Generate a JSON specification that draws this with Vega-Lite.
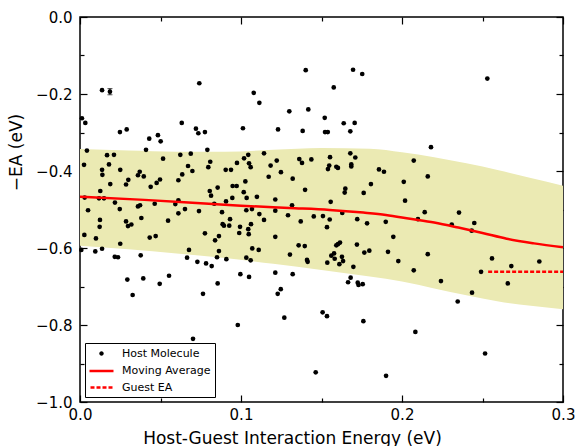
{
  "$schema": "https://vega.github.io/schema/vega-lite/v6.json",
  "width": 483,
  "height": 385,
  "autosize": {"type": "none"},
  "padding": {"left": 80, "top": 17, "right": 14, "bottom": 44},
  "background": "white",
  "config": {
    "view": {"stroke": "black", "strokeWidth": 1.5},
    "font": "DejaVu Sans",
    "axis": {
      "labelFont": "DejaVu Sans", "titleFont": "DejaVu Sans",
      "labelColor": "black", "titleColor": "black", "tickColor": "black",
      "domain": false, "grid": false, "titleFontWeight": "normal",
      "labelFontSize": 15, "titleFontSize": 17, "tickWidth": 1.2, "zindex": 1
    }
  },
  "datasets": {
    "band": [
      {"x": 0.0, "hi": -0.343, "lo": -0.594},
      {"x": 0.03, "hi": -0.347, "lo": -0.603},
      {"x": 0.06, "hi": -0.350, "lo": -0.614},
      {"x": 0.09, "hi": -0.350, "lo": -0.626},
      {"x": 0.12, "hi": -0.345, "lo": -0.641},
      {"x": 0.15, "hi": -0.340, "lo": -0.657},
      {"x": 0.18, "hi": -0.342, "lo": -0.674},
      {"x": 0.2, "hi": -0.351, "lo": -0.687},
      {"x": 0.22, "hi": -0.364, "lo": -0.705},
      {"x": 0.24, "hi": -0.380, "lo": -0.723},
      {"x": 0.26, "hi": -0.398, "lo": -0.739},
      {"x": 0.28, "hi": -0.418, "lo": -0.750},
      {"x": 0.3, "hi": -0.438, "lo": -0.759}
    ],
    "ma": [
      {"x": 0.0, "y": -0.467}, {"x": 0.04, "y": -0.475}, {"x": 0.08, "y": -0.485},
      {"x": 0.1, "y": -0.490}, {"x": 0.13, "y": -0.496}, {"x": 0.155, "y": -0.501},
      {"x": 0.176, "y": -0.508}, {"x": 0.19, "y": -0.514}, {"x": 0.205, "y": -0.524},
      {"x": 0.22, "y": -0.534}, {"x": 0.235, "y": -0.547}, {"x": 0.25, "y": -0.561},
      {"x": 0.265, "y": -0.576}, {"x": 0.282, "y": -0.588}, {"x": 0.3, "y": -0.598}
    ],
    "guest": [
      {"x": 0.2535, "y": -0.6615}, {"x": 0.3, "y": -0.6615}
    ],
    "err": [
      {"x": 0.0186, "lo": -0.202, "hi": -0.186}
    ],
    "pts": [
      {"x":0.0137,"y":-0.190},{"x":0.0186,"y":-0.194},{"x":0.0741,"y":-0.172},{"x":0.0012,"y":-0.263},{"x":0.0033,"y":-0.275},{"x":0.0248,"y":-0.299},{"x":0.0290,"y":-0.292},{"x":0.0632,"y":-0.275},{"x":0.0720,"y":-0.290},{"x":0.1402,"y":-0.138},{"x":0.1696,"y":-0.137},{"x":0.1753,"y":-0.148},{"x":0.1079,"y":-0.197},{"x":0.1114,"y":-0.223},{"x":0.1576,"y":-0.183},{"x":0.1300,"y":-0.245},{"x":0.1418,"y":-0.240},{"x":0.1520,"y":-0.262},{"x":0.1638,"y":-0.276},{"x":0.1706,"y":-0.275},{"x":0.1012,"y":-0.289},{"x":0.1230,"y":-0.292},{"x":0.1383,"y":-0.296},{"x":0.1522,"y":-0.299},{"x":0.1539,"y":-0.299},{"x":0.1679,"y":-0.297},{"x":0.2530,"y":-0.160},
      {"x":0.0430,"y":-0.316},{"x":0.0484,"y":-0.307},{"x":0.0501,"y":-0.323},{"x":0.0043,"y":-0.347},{"x":0.0410,"y":-0.345},{"x":0.0025,"y":-0.384},{"x":0.0168,"y":-0.359},{"x":0.0211,"y":-0.358},{"x":0.0180,"y":-0.383},{"x":0.0137,"y":-0.397},{"x":0.0139,"y":-0.410},{"x":0.0250,"y":-0.397},{"x":0.0516,"y":-0.368},{"x":0.0371,"y":-0.402},{"x":0.0360,"y":-0.411},{"x":0.0396,"y":-0.414},{"x":0.0300,"y":-0.423},{"x":0.0286,"y":-0.435},{"x":0.0188,"y":-0.434},{"x":0.0439,"y":-0.441},{"x":0.0497,"y":-0.422},{"x":0.0476,"y":-0.431},{"x":0.0126,"y":-0.452},{"x":0.0118,"y":-0.471},{"x":0.0149,"y":-0.471},{"x":0.0029,"y":-0.469},{"x":0.0217,"y":-0.482},{"x":0.0247,"y":-0.499},{"x":0.0050,"y":-0.502},{"x":0.0360,"y":-0.492},{"x":0.0373,"y":-0.489},{"x":0.0464,"y":-0.485},{"x":0.0592,"y":-0.486},{"x":0.0124,"y":-0.527},{"x":0.0122,"y":-0.545},{"x":0.0286,"y":-0.531},{"x":0.0298,"y":-0.543},{"x":0.0319,"y":-0.539},{"x":0.0381,"y":-0.522},{"x":0.0547,"y":-0.529},{"x":0.0027,"y":-0.566},{"x":0.0099,"y":-0.575},{"x":0.0250,"y":-0.589},{"x":0.0433,"y":-0.573},{"x":0.0470,"y":-0.569},{"x":0.0008,"y":-0.605},{"x":0.0095,"y":-0.609},{"x":0.0137,"y":-0.602},{"x":0.0216,"y":-0.623},{"x":0.0236,"y":-0.624},{"x":0.0377,"y":-0.619},{"x":0.0294,"y":-0.682},{"x":0.0393,"y":-0.679},{"x":0.0495,"y":-0.693},{"x":0.0553,"y":-0.672},{"x":0.0327,"y":-0.722},
      {"x":0.0735,"y":-0.302},{"x":0.0776,"y":-0.299},{"x":0.0791,"y":-0.345},{"x":0.0623,"y":-0.358},{"x":0.0688,"y":-0.355},{"x":0.1045,"y":-0.358},{"x":0.1143,"y":-0.354},{"x":0.1019,"y":-0.367},{"x":0.0975,"y":-0.379},{"x":0.0809,"y":-0.376},{"x":0.0797,"y":-0.390},{"x":0.0671,"y":-0.387},{"x":0.0698,"y":-0.400},{"x":0.1050,"y":-0.380},{"x":0.1060,"y":-0.390},{"x":0.1184,"y":-0.386},{"x":0.0905,"y":-0.397},{"x":0.0938,"y":-0.397},{"x":0.0635,"y":-0.409},{"x":0.0611,"y":-0.424},{"x":0.1172,"y":-0.415},{"x":0.1027,"y":-0.427},{"x":0.0948,"y":-0.439},{"x":0.0973,"y":-0.439},{"x":0.0806,"y":-0.452},{"x":0.0814,"y":-0.464},{"x":0.0855,"y":-0.443},{"x":0.1017,"y":-0.455},{"x":0.1035,"y":-0.470},{"x":0.1099,"y":-0.467},{"x":0.0946,"y":-0.470},{"x":0.0907,"y":-0.479},{"x":0.0834,"y":-0.485},{"x":0.0611,"y":-0.476},{"x":0.0652,"y":-0.499},{"x":0.0611,"y":-0.510},{"x":0.0739,"y":-0.504},{"x":0.0882,"y":-0.507},{"x":0.1033,"y":-0.502},{"x":0.1068,"y":-0.499},{"x":0.1114,"y":-0.512},{"x":0.1143,"y":-0.527},{"x":0.0932,"y":-0.525},{"x":0.0886,"y":-0.538},{"x":0.0894,"y":-0.542},{"x":0.0927,"y":-0.542},{"x":0.0994,"y":-0.545},{"x":0.1045,"y":-0.551},{"x":0.1062,"y":-0.538},{"x":0.0989,"y":-0.561},{"x":0.1048,"y":-0.564},{"x":0.0776,"y":-0.562},{"x":0.0863,"y":-0.569},{"x":0.0839,"y":-0.580},{"x":0.0677,"y":-0.605},{"x":0.0665,"y":-0.625},{"x":0.0863,"y":-0.608},{"x":0.0851,"y":-0.624},{"x":0.0909,"y":-0.629},{"x":0.1070,"y":-0.601},{"x":0.1110,"y":-0.605},{"x":0.1033,"y":-0.625},{"x":0.1060,"y":-0.632},{"x":0.0729,"y":-0.636},{"x":0.0783,"y":-0.640},{"x":0.0818,"y":-0.647},{"x":0.0996,"y":-0.668},{"x":0.1050,"y":-0.675},{"x":0.0855,"y":-0.692},{"x":0.0764,"y":-0.719},
      {"x":0.1222,"y":-0.373},{"x":0.1248,"y":-0.403},{"x":0.1321,"y":-0.420},{"x":0.1362,"y":-0.369},{"x":0.1379,"y":-0.379},{"x":0.1437,"y":-0.370},{"x":0.1553,"y":-0.364},{"x":0.1540,"y":-0.395},{"x":0.1548,"y":-0.386},{"x":0.1592,"y":-0.389},{"x":0.1602,"y":-0.392},{"x":0.1679,"y":-0.354},{"x":0.1710,"y":-0.365},{"x":0.1685,"y":-0.383},{"x":0.1685,"y":-0.388},{"x":0.1398,"y":-0.449},{"x":0.1648,"y":-0.446},{"x":0.1644,"y":-0.456},{"x":0.1762,"y":-0.457},{"x":0.1213,"y":-0.474},{"x":0.1557,"y":-0.480},{"x":0.1317,"y":-0.489},{"x":0.1213,"y":-0.503},{"x":0.1292,"y":-0.515},{"x":0.1371,"y":-0.531},{"x":0.1452,"y":-0.518},{"x":0.1509,"y":-0.517},{"x":0.1551,"y":-0.526},{"x":0.1534,"y":-0.546},{"x":0.1629,"y":-0.509},{"x":0.1722,"y":-0.525},{"x":0.1783,"y":-0.536},{"x":0.1213,"y":-0.571},{"x":0.1358,"y":-0.593},{"x":0.1396,"y":-0.595},{"x":0.1592,"y":-0.593},{"x":0.1602,"y":-0.590},{"x":0.1615,"y":-0.586},{"x":0.1720,"y":-0.591},{"x":0.1766,"y":-0.612},{"x":0.1797,"y":-0.607},{"x":0.1304,"y":-0.617},{"x":0.1578,"y":-0.614},{"x":0.1561,"y":-0.620},{"x":0.1582,"y":-0.628},{"x":0.1627,"y":-0.623},{"x":0.1634,"y":-0.634},{"x":0.1536,"y":-0.638},{"x":0.1611,"y":-0.642},{"x":0.1410,"y":-0.631},{"x":0.1414,"y":-0.636},{"x":0.1698,"y":-0.649},{"x":0.1213,"y":-0.664},{"x":0.1321,"y":-0.668},{"x":0.1681,"y":-0.677},{"x":0.1665,"y":-0.689},{"x":0.1725,"y":-0.690},{"x":0.1730,"y":-0.696},{"x":0.1756,"y":-0.694},{"x":0.1247,"y":-0.707},{"x":0.1228,"y":-0.719},
      {"x":0.2180,"y":-0.338},{"x":0.2073,"y":-0.373},{"x":0.1857,"y":-0.396},{"x":0.1888,"y":-0.402},{"x":0.2160,"y":-0.414},{"x":0.2011,"y":-0.428},{"x":0.1807,"y":-0.434},{"x":0.2019,"y":-0.477},{"x":0.2141,"y":-0.507},{"x":0.2354,"y":-0.508},{"x":0.2099,"y":-0.525},{"x":0.2309,"y":-0.539},{"x":0.1899,"y":-0.532},{"x":0.1946,"y":-0.571},{"x":0.1913,"y":-0.610},{"x":0.1977,"y":-0.634},{"x":0.2160,"y":-0.616},{"x":0.2073,"y":-0.658},{"x":0.2242,"y":-0.686},{"x":0.2346,"y":-0.739},
      {"x":0.2449,"y":-0.535},{"x":0.2433,"y":-0.555},{"x":0.2559,"y":-0.627},{"x":0.2679,"y":-0.647},{"x":0.2853,"y":-0.635},{"x":0.2491,"y":-0.662},{"x":0.2657,"y":-0.692},{"x":0.2435,"y":-0.716},
      {"x":0.0702,"y":-0.836},{"x":0.0980,"y":-0.800},{"x":0.1269,"y":-0.781},{"x":0.1507,"y":-0.767},{"x":0.1534,"y":-0.777},{"x":0.1760,"y":-0.790},{"x":0.1464,"y":-0.923},{"x":0.1901,"y":-0.932},{"x":0.2083,"y":-0.818},{"x":0.2516,"y":-0.874}
    ]
  },
  "resolve": {"axis": {"x": "independent", "y": "independent"}},
  "layer": [
    {
      "data": {"name": "band"},
      "mark": {"type": "area", "color": "#ebeab3", "interpolate": "monotone", "opacity": 1},
      "encoding": {
        "x": {"field": "x", "type": "quantitative",
          "scale": {"domain": [0, 0.3], "nice": false, "zero": false},
          "axis": {"orient": "bottom", "values": [0, 0.1, 0.2, 0.3], "format": ".1f", "tickSize": -7, "labelPadding": 12,
            "title": "Host-Guest Interaction Energy (eV)", "titleX": 212, "titleY": 41, "titleAlign": "center", "titleBaseline": "alphabetic", "labelFlush": false}},
        "y": {"field": "hi", "type": "quantitative",
          "scale": {"domain": [-1, 0], "nice": false, "zero": false},
          "axis": {"orient": "left", "values": [-1, -0.8, -0.6, -0.4, -0.2, 0], "format": ".1f", "tickSize": -7, "labelPadding": 15,
            "title": "−EA (eV)", "titleX": -59, "titleY": 135, "titleAngle": 270, "titleAlign": "center", "titleBaseline": "alphabetic", "labelFlush": false}},
        "y2": {"field": "lo"}
      }
    },
    {
      "data": {"name": "pts"},
      "mark": {"type": "point", "filled": true, "size": 22, "opacity": 1},
      "encoding": {
        "x": {"field": "x", "type": "quantitative",
          "axis": {"orient": "top", "values": [0.05, 0.15, 0.25], "tickSize": -4, "labels": false, "title": null}},
        "y": {"field": "y", "type": "quantitative",
          "axis": {"orient": "right", "values": [-0.9, -0.7, -0.5, -0.3, -0.1], "tickSize": -4, "labels": false, "title": null}},
        "color": {"datum": "Host Molecule", "type": "nominal",
          "scale": {"domain": ["Host Molecule", "Moving Average", "Guest EA"], "range": ["black", "red", "red"]},
          "legend": {
            "title": null, "orient": "none", "legendX": 5, "legendY": 326,
            "strokeColor": "black", "fillColor": "white", "padding": 4,
            "labelFont": "DejaVu Sans", "labelFontSize": 11, "labelColor": "black",
            "symbolSize": 100, "symbolStrokeWidth": 2.5, "symbolOffset": 6, "labelOffset": 14, "rowPadding": 4.5,
            "symbolOpacity": 1,
            "symbolType": {"expr": "datum.index === 0 ? 'M-0.2,0A0.2,0.2 0 1,0 0.2,0A0.2,0.2 0 1,0 -0.2,0Z' : datum.index === 1 ? 'M-2.4,0H2.4' : 'M-2.2,0H-1.4M-1,0H-0.2M0.2,0H1M1.4,0H2.2'"}
          }}
      }
    },
    {
      "data": {"name": "err"},
      "mark": {"type": "errorbar", "ticks": {"size": 5}, "color": "black"},
      "encoding": {
        "x": {"field": "x", "type": "quantitative", "axis": null},
        "y": {"field": "lo", "type": "quantitative", "axis": null},
        "y2": {"field": "hi"}
      }
    },
    {
      "data": {"name": "ma"},
      "mark": {"type": "line", "strokeWidth": 2.5, "interpolate": "monotone"},
      "encoding": {
        "x": {"field": "x", "type": "quantitative",
          "axis": {"orient": "bottom", "values": [0.05, 0.15, 0.25], "tickSize": -4, "labels": false, "title": null}},
        "y": {"field": "y", "type": "quantitative",
          "axis": {"orient": "left", "values": [-0.9, -0.7, -0.5, -0.3, -0.1], "tickSize": -4, "labels": false, "title": null}},
        "color": {"datum": "Moving Average", "type": "nominal",
          "scale": {"domain": ["Host Molecule", "Moving Average", "Guest EA"], "range": ["black", "red", "red"]}}
      }
    },
    {
      "data": {"name": "guest"},
      "mark": {"type": "line", "strokeWidth": 2.5, "strokeDash": [4, 2]},
      "encoding": {
        "x": {"field": "x", "type": "quantitative",
          "axis": {"orient": "top", "values": [0, 0.1, 0.2, 0.3], "tickSize": -7, "labels": false, "title": null}},
        "y": {"field": "y", "type": "quantitative",
          "axis": {"orient": "right", "values": [-1, -0.8, -0.6, -0.4, -0.2, 0], "tickSize": -7, "labels": false, "title": null}},
        "color": {"datum": "Guest EA", "type": "nominal",
          "scale": {"domain": ["Host Molecule", "Moving Average", "Guest EA"], "range": ["black", "red", "red"]}}
      }
    }
  ]
}
